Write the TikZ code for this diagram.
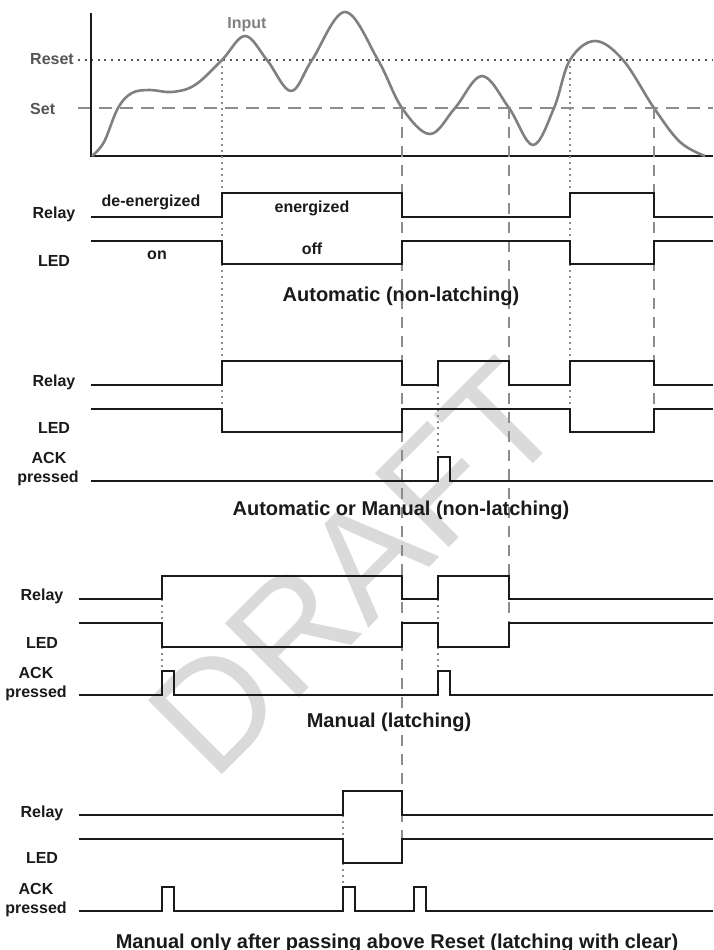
\documentclass[tikz,border=0pt]{standalone}
\usepackage{fontspec}
\setmainfont{Liberation Sans}
\usetikzlibrary{positioning}
\definecolor{InkDark}{HTML}{1A1A1A}
\definecolor{CurveGrey}{HTML}{808080}
\definecolor{GuideGrey}{HTML}{8C8C8C}
\definecolor{LevelGrey}{HTML}{555555}
\definecolor{MarkGrey}{HTML}{DADADA}
\tikzset{
  sig/.style={line width=1.8pt, draw=InkDark, line join=miter},
  axisline/.style={line width=1.7pt, draw=InkDark},
  curve/.style={line width=2.6pt, draw=CurveGrey, line join=round},
  resetline/.style={line width=1.3pt, draw=LevelGrey, dash pattern=on 2pt off 4.6pt},
  setline/.style={line width=1.5pt, draw=GuideGrey, dash pattern=on 13pt off 8pt},
  dashguide/.style={line width=1.5pt, draw=GuideGrey, dash pattern=on 11pt off 8pt},
  dotguide/.style={line width=1.3pt, draw=GuideGrey, dash pattern=on 2.2pt off 3.8pt},
  lbl/.style={font=\bfseries\fontsize{16}{18}\selectfont, text=InkDark, inner sep=0pt, anchor=base},
  lvl/.style={font=\bfseries\fontsize{16}{18}\selectfont, text=LevelGrey, inner sep=0pt, anchor=base west},
  note/.style={font=\bfseries\fontsize{16}{18}\selectfont, text=InkDark, inner sep=0pt, anchor=base},
  headline/.style={font=\bfseries\fontsize{20}{22}\selectfont, text=InkDark, inner sep=0pt, anchor=base},
}

\begin{document}
\begin{tikzpicture}[x=1pt, y=-1pt]
  \fill[white] (0,0) rectangle (713,950);
  \useasboundingbox (0,0) rectangle (713,950);

  % watermark
  \node[font=\fontsize{152}{152}\selectfont, text=MarkGrey, rotate=45, inner sep=0pt, anchor=base west] (mark) at (213,784) {DRAFT};

  % input plot
  \draw[resetline] (78,60) -- (713,60);
  \draw[setline] (78,108) -- (713,108);
  \node[lvl] (lblReset) at (30,65) {Reset};
  \node[lvl] (lblSet) at (30,114) {Set};
  \draw[axisline] (91,13) -- (91,156) -- (713,156);
  \draw[curve] plot[smooth, tension=0.6] coordinates {
    (92,156) (104,142) (118,108) (132,93) (150,90) (172,92) (195,85)
    (222,60) (245,36) (267,60) (291,91) (312,60) (345,12) (378,60)
    (402,108) (430,134) (455,108) (482,76) (509,108) (533,145)
    (554,108) (570,60) (595,41) (623,60) (654,108) (680,142) (705,156)};
  \node[font=\bfseries\fontsize{16}{18}\selectfont, text=CurveGrey, inner sep=0pt, anchor=base] (lblInput) at (247,29) {Input};

  % guides from the crossings
  \draw[dotguide] (222,60) -- (222,409);
  \draw[dotguide] (570,60) -- (570,409);
  \draw[dashguide] (402,108) -- (402,839);
  \draw[dashguide] (509,108) -- (509,623);
  \draw[dashguide] (654,108) -- (654,409);
  \draw[dotguide] (438,385) -- (438,457);
  \draw[dotguide] (162,599) -- (162,671);
  \draw[dotguide] (438,599) -- (438,671);
  \draw[dotguide] (343,815) -- (343,887);

  % Automatic (non-latching)
  \node[lbl] (relayA) at (54,218) {Relay};
  \node[lbl] (ledA) at (54,266) {LED};
  \node[note] (deen) at (151,206) {de-energized};
  \node[note] (en) at (312,212) {energized};
  \node[note] (ledon) at (157,259) {on};
  \node[note] (ledoff) at (312,254) {off};
  \draw[sig] (91,217) -| (222,193) -| (402,217) -| (570,193) -| (654,217) -- (713,217);
  \draw[sig] (91,241) -| (222,264) -| (402,241) -| (570,264) -| (654,241) -- (713,241);
  \node[headline] (titleA) at (401,301) {Automatic (non-latching)};

  % Automatic or Manual (non-latching)
  \node[lbl] (relayB) at (54,386) {Relay};
  \node[lbl] (ledB) at (54,433) {LED};
  \node[lbl] (ackB) at (49,463) {ACK};
  \node[lbl] (pressB) at (48,482) {pressed};
  \draw[sig] (91,385) -| (222,361) -| (402,385) -| (438,361) -| (509,385) -| (570,361) -| (654,385) -- (713,385);
  \draw[sig] (91,409) -| (222,432) -| (402,409) -| (570,432) -| (654,409) -- (713,409);
  \draw[sig] (91,481) -| (438,457) -| (450,481) -- (713,481);
  \node[headline] (titleB) at (401,515) {Automatic or Manual (non-latching)};

  % Manual (latching)
  \node[lbl] (relayC) at (42,600) {Relay};
  \node[lbl] (ledC) at (42,648) {LED};
  \node[lbl] (ackC) at (36,678) {ACK};
  \node[lbl] (pressC) at (36,697) {pressed};
  \draw[sig] (79,599) -| (162,576) -| (402,599) -| (438,576) -| (509,599) -- (713,599);
  \draw[sig] (79,623) -| (162,647) -| (402,623) -| (438,647) -| (509,623) -- (713,623);
  \draw[sig] (79,695) -| (162,671) -| (174,695) -| (438,671) -| (450,695) -- (713,695);
  \node[headline] (titleC) at (389,727) {Manual (latching)};

  % Manual only after passing above Reset
  \node[lbl] (relayD) at (42,817) {Relay};
  \node[lbl] (ledD) at (42,863) {LED};
  \node[lbl] (ackD) at (36,894) {ACK};
  \node[lbl] (pressD) at (36,913) {pressed};
  \draw[sig] (79,815) -| (343,791) -| (402,815) -- (713,815);
  \draw[sig] (79,839) -| (343,863) -| (402,839) -- (713,839);
  \draw[sig] (79,911) -| (162,887) -| (174,911) -| (343,887) -| (355,911) -| (414,887) -| (426,911) -- (713,911);
  \node[headline] (titleD) at (397,948) {Manual only after passing above Reset (latching with clear)};
\end{tikzpicture}
\end{document}
